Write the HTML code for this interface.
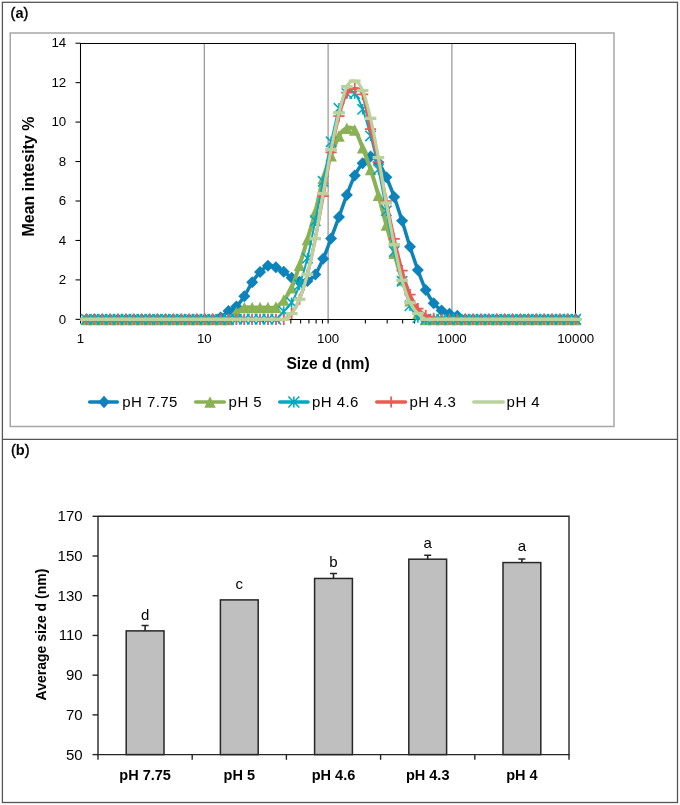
<!DOCTYPE html><html><head><meta charset="utf-8"><style>html,body{margin:0;padding:0;background:#fff;}svg{display:block;will-change:transform;}text{font-family:"Liberation Sans", sans-serif;fill:#000;}</style></head><body>
<svg width="680" height="805" viewBox="0 0 680 805">
<rect x="0" y="0" width="680" height="805" fill="#fff"/>
<defs><clipPath id="pa"><rect x="80.5" y="23.2" width="505.2" height="316.2"/></clipPath></defs>
<rect x="2.4" y="2.3" width="675.1" height="800.2" fill="none" stroke="#555" stroke-width="1.3"/>
<line x1="2" y1="439.3" x2="678" y2="439.3" stroke="#555" stroke-width="1.3"/>
<text x="10.6" y="18" font-size="14.5" stroke="#000" stroke-width="0.4">(<tspan font-weight="bold" stroke-width="0">a</tspan>)</text>
<text x="11" y="455" font-size="14.5" stroke="#000" stroke-width="0.4">(<tspan font-weight="bold" stroke-width="0">b</tspan>)</text>
<rect x="10.25" y="33" width="603.75" height="393.5" fill="none" stroke="#a6a6a6" stroke-width="1.5"/>
<line x1="204.30" y1="43.2" x2="204.30" y2="319.4" stroke="#8a8a8a" stroke-width="1.1"/>
<line x1="328.10" y1="43.2" x2="328.10" y2="319.4" stroke="#8a8a8a" stroke-width="1.1"/>
<line x1="451.90" y1="43.2" x2="451.90" y2="319.4" stroke="#8a8a8a" stroke-width="1.1"/>
<path d="M80.5 43.5H575.5V319.5" fill="none" stroke="#000" stroke-width="1.05"/>
<line x1="80.5" y1="43.0" x2="80.5" y2="320.0" stroke="#000" stroke-width="1.05"/>
<line x1="75.5" y1="319.35" x2="80.5" y2="319.35" stroke="#000" stroke-width="1.05"/>
<text x="66.2" y="323.55" font-size="13.3" text-anchor="end">0</text>
<line x1="75.5" y1="279.90" x2="80.5" y2="279.90" stroke="#000" stroke-width="1.05"/>
<text x="66.2" y="284.10" font-size="13.3" text-anchor="end">2</text>
<line x1="75.5" y1="240.45" x2="80.5" y2="240.45" stroke="#000" stroke-width="1.05"/>
<text x="66.2" y="244.65" font-size="13.3" text-anchor="end">4</text>
<line x1="75.5" y1="201.00" x2="80.5" y2="201.00" stroke="#000" stroke-width="1.05"/>
<text x="66.2" y="205.20" font-size="13.3" text-anchor="end">6</text>
<line x1="75.5" y1="161.55" x2="80.5" y2="161.55" stroke="#000" stroke-width="1.05"/>
<text x="66.2" y="165.75" font-size="13.3" text-anchor="end">8</text>
<line x1="75.5" y1="122.10" x2="80.5" y2="122.10" stroke="#000" stroke-width="1.05"/>
<text x="66.2" y="126.30" font-size="13.3" text-anchor="end">10</text>
<line x1="75.5" y1="82.65" x2="80.5" y2="82.65" stroke="#000" stroke-width="1.05"/>
<text x="66.2" y="86.85" font-size="13.3" text-anchor="end">12</text>
<line x1="75.5" y1="43.20" x2="80.5" y2="43.20" stroke="#000" stroke-width="1.05"/>
<text x="66.2" y="47.40" font-size="13.3" text-anchor="end">14</text>
<line x1="80.5" y1="319.5" x2="576.0" y2="319.5" stroke="#000" stroke-width="1.05"/>
<line x1="80.50" y1="319.5" x2="80.50" y2="323.5" stroke="#000" stroke-width="1.05"/>
<line x1="117.77" y1="319.5" x2="117.77" y2="323.5" stroke="#000" stroke-width="1.05"/>
<line x1="139.57" y1="319.5" x2="139.57" y2="323.5" stroke="#000" stroke-width="1.05"/>
<line x1="155.04" y1="319.5" x2="155.04" y2="323.5" stroke="#000" stroke-width="1.05"/>
<line x1="167.03" y1="319.5" x2="167.03" y2="323.5" stroke="#000" stroke-width="1.05"/>
<line x1="176.84" y1="319.5" x2="176.84" y2="323.5" stroke="#000" stroke-width="1.05"/>
<line x1="185.12" y1="319.5" x2="185.12" y2="323.5" stroke="#000" stroke-width="1.05"/>
<line x1="192.30" y1="319.5" x2="192.30" y2="323.5" stroke="#000" stroke-width="1.05"/>
<line x1="198.64" y1="319.5" x2="198.64" y2="323.5" stroke="#000" stroke-width="1.05"/>
<line x1="204.30" y1="319.5" x2="204.30" y2="323.5" stroke="#000" stroke-width="1.05"/>
<line x1="241.57" y1="319.5" x2="241.57" y2="323.5" stroke="#000" stroke-width="1.05"/>
<line x1="263.37" y1="319.5" x2="263.37" y2="323.5" stroke="#000" stroke-width="1.05"/>
<line x1="278.84" y1="319.5" x2="278.84" y2="323.5" stroke="#000" stroke-width="1.05"/>
<line x1="290.83" y1="319.5" x2="290.83" y2="323.5" stroke="#000" stroke-width="1.05"/>
<line x1="300.64" y1="319.5" x2="300.64" y2="323.5" stroke="#000" stroke-width="1.05"/>
<line x1="308.92" y1="319.5" x2="308.92" y2="323.5" stroke="#000" stroke-width="1.05"/>
<line x1="316.10" y1="319.5" x2="316.10" y2="323.5" stroke="#000" stroke-width="1.05"/>
<line x1="322.44" y1="319.5" x2="322.44" y2="323.5" stroke="#000" stroke-width="1.05"/>
<line x1="328.10" y1="319.5" x2="328.10" y2="323.5" stroke="#000" stroke-width="1.05"/>
<line x1="365.37" y1="319.5" x2="365.37" y2="323.5" stroke="#000" stroke-width="1.05"/>
<line x1="387.17" y1="319.5" x2="387.17" y2="323.5" stroke="#000" stroke-width="1.05"/>
<line x1="402.64" y1="319.5" x2="402.64" y2="323.5" stroke="#000" stroke-width="1.05"/>
<line x1="414.63" y1="319.5" x2="414.63" y2="323.5" stroke="#000" stroke-width="1.05"/>
<line x1="424.44" y1="319.5" x2="424.44" y2="323.5" stroke="#000" stroke-width="1.05"/>
<line x1="432.72" y1="319.5" x2="432.72" y2="323.5" stroke="#000" stroke-width="1.05"/>
<line x1="439.90" y1="319.5" x2="439.90" y2="323.5" stroke="#000" stroke-width="1.05"/>
<line x1="446.24" y1="319.5" x2="446.24" y2="323.5" stroke="#000" stroke-width="1.05"/>
<line x1="451.90" y1="319.5" x2="451.90" y2="323.5" stroke="#000" stroke-width="1.05"/>
<line x1="489.17" y1="319.5" x2="489.17" y2="323.5" stroke="#000" stroke-width="1.05"/>
<line x1="510.97" y1="319.5" x2="510.97" y2="323.5" stroke="#000" stroke-width="1.05"/>
<line x1="526.44" y1="319.5" x2="526.44" y2="323.5" stroke="#000" stroke-width="1.05"/>
<line x1="538.43" y1="319.5" x2="538.43" y2="323.5" stroke="#000" stroke-width="1.05"/>
<line x1="548.24" y1="319.5" x2="548.24" y2="323.5" stroke="#000" stroke-width="1.05"/>
<line x1="556.52" y1="319.5" x2="556.52" y2="323.5" stroke="#000" stroke-width="1.05"/>
<line x1="563.70" y1="319.5" x2="563.70" y2="323.5" stroke="#000" stroke-width="1.05"/>
<line x1="570.04" y1="319.5" x2="570.04" y2="323.5" stroke="#000" stroke-width="1.05"/>
<line x1="575.50" y1="319.5" x2="575.50" y2="323.5" stroke="#000" stroke-width="1.05"/>
<text x="80.50" y="343.0" font-size="13.3" text-anchor="middle">1</text>
<text x="204.30" y="343.0" font-size="13.3" text-anchor="middle">10</text>
<text x="328.10" y="343.0" font-size="13.3" text-anchor="middle">100</text>
<text x="451.90" y="343.0" font-size="13.3" text-anchor="middle">1000</text>
<text x="575.70" y="343.0" font-size="13.3" text-anchor="middle">10000</text>
<text x="328" y="368.6" font-size="15.6" font-weight="bold" text-anchor="middle">Size d (nm)</text>
<text transform="translate(34,176.5) rotate(-90)" x="0" y="0" font-size="16" font-weight="bold" text-anchor="middle">Mean intesity %</text>
<path clip-path="url(#pa)" d="M78.58 319.35C79.89 319.35 83.84 319.35 86.47 319.35C89.10 319.35 91.73 319.35 94.36 319.35C96.99 319.35 99.62 319.35 102.25 319.35C104.88 319.35 107.51 319.35 110.14 319.35C112.77 319.35 115.40 319.35 118.03 319.35C120.66 319.35 123.29 319.35 125.92 319.35C128.55 319.35 131.19 319.35 133.82 319.35C136.45 319.35 139.08 319.35 141.71 319.35C144.34 319.35 146.97 319.35 149.60 319.35C152.23 319.35 154.86 319.35 157.49 319.35C160.12 319.35 162.75 319.35 165.38 319.35C168.01 319.35 170.64 319.35 173.27 319.35C175.90 319.35 178.53 319.35 181.16 319.35C183.79 319.35 186.42 319.35 189.05 319.35C191.68 319.35 194.31 319.35 196.94 319.35C199.57 319.35 202.20 319.35 204.83 319.35C207.46 319.35 210.09 319.68 212.72 319.35C215.35 319.02 217.98 318.76 220.61 317.38C223.24 316.00 225.87 312.87 228.50 311.07C231.14 309.26 233.77 308.99 236.40 306.53C239.03 304.06 241.66 300.32 244.29 296.27C246.92 292.23 249.55 286.31 252.18 282.27C254.81 278.22 257.44 274.77 260.07 272.01C262.70 269.25 265.33 266.49 267.96 265.70C270.59 264.91 273.22 266.26 275.85 267.28C278.48 268.30 281.11 270.07 283.74 271.81C286.37 273.56 289.00 276.09 291.63 277.73C294.26 279.37 296.89 281.15 299.52 281.68C302.15 282.20 304.78 282.10 307.41 280.89C310.04 279.67 312.67 278.06 315.30 274.38C317.93 270.69 320.56 264.78 323.19 258.79C325.82 252.81 328.46 245.45 331.09 238.48C333.72 231.51 336.35 224.24 338.98 216.98C341.61 209.71 344.24 201.79 346.87 194.89C349.50 187.98 352.13 180.85 354.76 175.55C357.39 170.26 360.02 166.28 362.65 163.13C365.28 159.97 367.91 156.72 370.54 156.62C373.17 156.52 375.80 159.08 378.43 162.54C381.06 165.99 383.69 171.58 386.32 177.33C388.95 183.08 391.58 189.82 394.21 197.06C396.84 204.29 399.47 212.44 402.10 220.73C404.73 229.01 407.36 238.54 409.99 246.76C412.62 254.98 415.25 262.84 417.88 270.04C420.51 277.24 423.14 284.44 425.77 289.96C428.41 295.48 431.04 299.76 433.67 303.18C436.30 306.59 438.93 308.70 441.56 310.47C444.19 312.25 446.82 312.94 449.45 313.83C452.08 314.71 454.71 314.88 457.34 315.80C459.97 316.72 462.60 318.76 465.23 319.35C467.86 319.94 470.49 319.35 473.12 319.35C475.75 319.35 478.38 319.35 481.01 319.35C483.64 319.35 486.27 319.35 488.90 319.35C491.53 319.35 494.16 319.35 496.79 319.35C499.42 319.35 502.05 319.35 504.68 319.35C507.31 319.35 509.94 319.35 512.57 319.35C515.20 319.35 517.83 319.35 520.46 319.35C523.09 319.35 525.72 319.35 528.36 319.35C530.99 319.35 533.62 319.35 536.25 319.35C538.88 319.35 541.51 319.35 544.14 319.35C546.77 319.35 549.40 319.35 552.03 319.35C554.66 319.35 557.29 319.35 559.92 319.35C562.55 319.35 565.18 319.35 567.81 319.35C570.44 319.35 574.38 319.35 575.70 319.35" fill="none" stroke="#0c83ba" stroke-width="3.50" stroke-linejoin="round" stroke-linecap="round"/>
<path d="M86.47 313.35L92.47 319.35L86.47 325.35L80.47 319.35Z" fill="#0c83ba"/><path d="M94.36 313.35L100.36 319.35L94.36 325.35L88.36 319.35Z" fill="#0c83ba"/><path d="M102.25 313.35L108.25 319.35L102.25 325.35L96.25 319.35Z" fill="#0c83ba"/><path d="M110.14 313.35L116.14 319.35L110.14 325.35L104.14 319.35Z" fill="#0c83ba"/><path d="M118.03 313.35L124.03 319.35L118.03 325.35L112.03 319.35Z" fill="#0c83ba"/><path d="M125.92 313.35L131.92 319.35L125.92 325.35L119.92 319.35Z" fill="#0c83ba"/><path d="M133.82 313.35L139.82 319.35L133.82 325.35L127.82 319.35Z" fill="#0c83ba"/><path d="M141.71 313.35L147.71 319.35L141.71 325.35L135.71 319.35Z" fill="#0c83ba"/><path d="M149.60 313.35L155.60 319.35L149.60 325.35L143.60 319.35Z" fill="#0c83ba"/><path d="M157.49 313.35L163.49 319.35L157.49 325.35L151.49 319.35Z" fill="#0c83ba"/><path d="M165.38 313.35L171.38 319.35L165.38 325.35L159.38 319.35Z" fill="#0c83ba"/><path d="M173.27 313.35L179.27 319.35L173.27 325.35L167.27 319.35Z" fill="#0c83ba"/><path d="M181.16 313.35L187.16 319.35L181.16 325.35L175.16 319.35Z" fill="#0c83ba"/><path d="M189.05 313.35L195.05 319.35L189.05 325.35L183.05 319.35Z" fill="#0c83ba"/><path d="M196.94 313.35L202.94 319.35L196.94 325.35L190.94 319.35Z" fill="#0c83ba"/><path d="M204.83 313.35L210.83 319.35L204.83 325.35L198.83 319.35Z" fill="#0c83ba"/><path d="M212.72 313.35L218.72 319.35L212.72 325.35L206.72 319.35Z" fill="#0c83ba"/><path d="M220.61 311.38L226.61 317.38L220.61 323.38L214.61 317.38Z" fill="#0c83ba"/><path d="M228.50 305.07L234.50 311.07L228.50 317.07L222.50 311.07Z" fill="#0c83ba"/><path d="M236.40 300.53L242.40 306.53L236.40 312.53L230.40 306.53Z" fill="#0c83ba"/><path d="M244.29 290.27L250.29 296.27L244.29 302.27L238.29 296.27Z" fill="#0c83ba"/><path d="M252.18 276.27L258.18 282.27L252.18 288.27L246.18 282.27Z" fill="#0c83ba"/><path d="M260.07 266.01L266.07 272.01L260.07 278.01L254.07 272.01Z" fill="#0c83ba"/><path d="M267.96 259.70L273.96 265.70L267.96 271.70L261.96 265.70Z" fill="#0c83ba"/><path d="M275.85 261.28L281.85 267.28L275.85 273.28L269.85 267.28Z" fill="#0c83ba"/><path d="M283.74 265.81L289.74 271.81L283.74 277.81L277.74 271.81Z" fill="#0c83ba"/><path d="M291.63 271.73L297.63 277.73L291.63 283.73L285.63 277.73Z" fill="#0c83ba"/><path d="M299.52 275.68L305.52 281.68L299.52 287.68L293.52 281.68Z" fill="#0c83ba"/><path d="M307.41 274.89L313.41 280.89L307.41 286.89L301.41 280.89Z" fill="#0c83ba"/><path d="M315.30 268.38L321.30 274.38L315.30 280.38L309.30 274.38Z" fill="#0c83ba"/><path d="M323.19 252.79L329.19 258.79L323.19 264.79L317.19 258.79Z" fill="#0c83ba"/><path d="M331.09 232.48L337.09 238.48L331.09 244.48L325.09 238.48Z" fill="#0c83ba"/><path d="M338.98 210.98L344.98 216.98L338.98 222.98L332.98 216.98Z" fill="#0c83ba"/><path d="M346.87 188.89L352.87 194.89L346.87 200.89L340.87 194.89Z" fill="#0c83ba"/><path d="M354.76 169.55L360.76 175.55L354.76 181.55L348.76 175.55Z" fill="#0c83ba"/><path d="M362.65 157.13L368.65 163.13L362.65 169.13L356.65 163.13Z" fill="#0c83ba"/><path d="M370.54 150.62L376.54 156.62L370.54 162.62L364.54 156.62Z" fill="#0c83ba"/><path d="M378.43 156.54L384.43 162.54L378.43 168.54L372.43 162.54Z" fill="#0c83ba"/><path d="M386.32 171.33L392.32 177.33L386.32 183.33L380.32 177.33Z" fill="#0c83ba"/><path d="M394.21 191.06L400.21 197.06L394.21 203.06L388.21 197.06Z" fill="#0c83ba"/><path d="M402.10 214.73L408.10 220.73L402.10 226.73L396.10 220.73Z" fill="#0c83ba"/><path d="M409.99 240.76L415.99 246.76L409.99 252.76L403.99 246.76Z" fill="#0c83ba"/><path d="M417.88 264.04L423.88 270.04L417.88 276.04L411.88 270.04Z" fill="#0c83ba"/><path d="M425.77 283.96L431.77 289.96L425.77 295.96L419.77 289.96Z" fill="#0c83ba"/><path d="M433.67 297.18L439.67 303.18L433.67 309.18L427.67 303.18Z" fill="#0c83ba"/><path d="M441.56 304.47L447.56 310.47L441.56 316.47L435.56 310.47Z" fill="#0c83ba"/><path d="M449.45 307.83L455.45 313.83L449.45 319.83L443.45 313.83Z" fill="#0c83ba"/><path d="M457.34 309.80L463.34 315.80L457.34 321.80L451.34 315.80Z" fill="#0c83ba"/><path d="M465.23 313.35L471.23 319.35L465.23 325.35L459.23 319.35Z" fill="#0c83ba"/><path d="M473.12 313.35L479.12 319.35L473.12 325.35L467.12 319.35Z" fill="#0c83ba"/><path d="M481.01 313.35L487.01 319.35L481.01 325.35L475.01 319.35Z" fill="#0c83ba"/><path d="M488.90 313.35L494.90 319.35L488.90 325.35L482.90 319.35Z" fill="#0c83ba"/><path d="M496.79 313.35L502.79 319.35L496.79 325.35L490.79 319.35Z" fill="#0c83ba"/><path d="M504.68 313.35L510.68 319.35L504.68 325.35L498.68 319.35Z" fill="#0c83ba"/><path d="M512.57 313.35L518.57 319.35L512.57 325.35L506.57 319.35Z" fill="#0c83ba"/><path d="M520.46 313.35L526.46 319.35L520.46 325.35L514.46 319.35Z" fill="#0c83ba"/><path d="M528.36 313.35L534.36 319.35L528.36 325.35L522.36 319.35Z" fill="#0c83ba"/><path d="M536.25 313.35L542.25 319.35L536.25 325.35L530.25 319.35Z" fill="#0c83ba"/><path d="M544.14 313.35L550.14 319.35L544.14 325.35L538.14 319.35Z" fill="#0c83ba"/><path d="M552.03 313.35L558.03 319.35L552.03 325.35L546.03 319.35Z" fill="#0c83ba"/><path d="M559.92 313.35L565.92 319.35L559.92 325.35L553.92 319.35Z" fill="#0c83ba"/><path d="M567.81 313.35L573.81 319.35L567.81 325.35L561.81 319.35Z" fill="#0c83ba"/><path d="M575.70 313.35L581.70 319.35L575.70 325.35L569.70 319.35Z" fill="#0c83ba"/>
<path clip-path="url(#pa)" d="M78.58 319.35C79.89 319.35 83.84 319.35 86.47 319.35C89.10 319.35 91.73 319.35 94.36 319.35C96.99 319.35 99.62 319.35 102.25 319.35C104.88 319.35 107.51 319.35 110.14 319.35C112.77 319.35 115.40 319.35 118.03 319.35C120.66 319.35 123.29 319.35 125.92 319.35C128.55 319.35 131.19 319.35 133.82 319.35C136.45 319.35 139.08 319.35 141.71 319.35C144.34 319.35 146.97 319.35 149.60 319.35C152.23 319.35 154.86 319.35 157.49 319.35C160.12 319.35 162.75 319.35 165.38 319.35C168.01 319.35 170.64 319.35 173.27 319.35C175.90 319.35 178.53 319.35 181.16 319.35C183.79 319.35 186.42 319.35 189.05 319.35C191.68 319.35 194.31 319.35 196.94 319.35C199.57 319.35 202.20 319.35 204.83 319.35C207.46 319.35 210.09 319.35 212.72 319.35C215.35 319.35 217.98 319.35 220.61 319.35C223.24 319.35 225.87 320.50 228.50 319.35C231.14 318.20 233.77 314.42 236.40 312.45C239.03 310.47 241.66 308.34 244.29 307.52C246.92 306.69 249.55 307.52 252.18 307.52C254.81 307.52 257.44 307.52 260.07 307.52C262.70 307.52 265.33 307.58 267.96 307.52C270.59 307.45 273.22 308.37 275.85 307.12C278.48 305.87 281.11 303.24 283.74 300.02C286.37 296.80 289.00 293.61 291.63 287.79C294.26 281.97 296.89 273.16 299.52 265.11C302.15 257.05 304.78 248.34 307.41 239.46C310.04 230.59 312.67 222.04 315.30 211.85C317.93 201.66 320.56 187.69 323.19 178.32C325.82 168.95 328.46 162.70 331.09 155.63C333.72 148.56 336.35 140.48 338.98 135.91C341.61 131.34 344.24 129.20 346.87 128.21C349.50 127.23 352.13 126.74 354.76 129.99C357.39 133.24 360.02 141.17 362.65 147.74C365.28 154.32 367.91 161.55 370.54 169.44C373.17 177.33 375.80 185.81 378.43 195.08C381.06 204.35 383.69 215.37 386.32 225.06C388.95 234.76 391.58 244.13 394.21 253.27C396.84 262.41 399.47 272.01 402.10 279.90C404.73 287.79 407.36 295.02 409.99 300.61C412.62 306.20 415.25 310.31 417.88 313.43C420.51 316.56 423.14 318.36 425.77 319.35C428.41 320.34 431.04 319.35 433.67 319.35C436.30 319.35 438.93 319.35 441.56 319.35C444.19 319.35 446.82 319.35 449.45 319.35C452.08 319.35 454.71 319.35 457.34 319.35C459.97 319.35 462.60 319.35 465.23 319.35C467.86 319.35 470.49 319.35 473.12 319.35C475.75 319.35 478.38 319.35 481.01 319.35C483.64 319.35 486.27 319.35 488.90 319.35C491.53 319.35 494.16 319.35 496.79 319.35C499.42 319.35 502.05 319.35 504.68 319.35C507.31 319.35 509.94 319.35 512.57 319.35C515.20 319.35 517.83 319.35 520.46 319.35C523.09 319.35 525.72 319.35 528.36 319.35C530.99 319.35 533.62 319.35 536.25 319.35C538.88 319.35 541.51 319.35 544.14 319.35C546.77 319.35 549.40 319.35 552.03 319.35C554.66 319.35 557.29 319.35 559.92 319.35C562.55 319.35 565.18 319.35 567.81 319.35C570.44 319.35 574.38 319.35 575.70 319.35" fill="none" stroke="#8ab254" stroke-width="4.00" stroke-linejoin="round" stroke-linecap="round"/>
<path d="M86.47 313.55L92.22 325.15L80.72 325.15Z" fill="#8ab254"/><path d="M94.36 313.55L100.11 325.15L88.61 325.15Z" fill="#8ab254"/><path d="M102.25 313.55L108.00 325.15L96.50 325.15Z" fill="#8ab254"/><path d="M110.14 313.55L115.89 325.15L104.39 325.15Z" fill="#8ab254"/><path d="M118.03 313.55L123.78 325.15L112.28 325.15Z" fill="#8ab254"/><path d="M125.92 313.55L131.67 325.15L120.17 325.15Z" fill="#8ab254"/><path d="M133.82 313.55L139.57 325.15L128.07 325.15Z" fill="#8ab254"/><path d="M141.71 313.55L147.46 325.15L135.96 325.15Z" fill="#8ab254"/><path d="M149.60 313.55L155.35 325.15L143.85 325.15Z" fill="#8ab254"/><path d="M157.49 313.55L163.24 325.15L151.74 325.15Z" fill="#8ab254"/><path d="M165.38 313.55L171.13 325.15L159.63 325.15Z" fill="#8ab254"/><path d="M173.27 313.55L179.02 325.15L167.52 325.15Z" fill="#8ab254"/><path d="M181.16 313.55L186.91 325.15L175.41 325.15Z" fill="#8ab254"/><path d="M189.05 313.55L194.80 325.15L183.30 325.15Z" fill="#8ab254"/><path d="M196.94 313.55L202.69 325.15L191.19 325.15Z" fill="#8ab254"/><path d="M204.83 313.55L210.58 325.15L199.08 325.15Z" fill="#8ab254"/><path d="M212.72 313.55L218.47 325.15L206.97 325.15Z" fill="#8ab254"/><path d="M220.61 313.55L226.36 325.15L214.86 325.15Z" fill="#8ab254"/><path d="M228.50 313.55L234.25 325.15L222.75 325.15Z" fill="#8ab254"/><path d="M236.40 306.65L242.15 318.25L230.65 318.25Z" fill="#8ab254"/><path d="M244.29 301.72L250.04 313.32L238.54 313.32Z" fill="#8ab254"/><path d="M252.18 301.72L257.93 313.32L246.43 313.32Z" fill="#8ab254"/><path d="M260.07 301.72L265.82 313.32L254.32 313.32Z" fill="#8ab254"/><path d="M267.96 301.72L273.71 313.32L262.21 313.32Z" fill="#8ab254"/><path d="M275.85 301.32L281.60 312.92L270.10 312.92Z" fill="#8ab254"/><path d="M283.74 294.22L289.49 305.82L277.99 305.82Z" fill="#8ab254"/><path d="M291.63 281.99L297.38 293.59L285.88 293.59Z" fill="#8ab254"/><path d="M299.52 259.31L305.27 270.91L293.77 270.91Z" fill="#8ab254"/><path d="M307.41 233.66L313.16 245.26L301.66 245.26Z" fill="#8ab254"/><path d="M315.30 206.05L321.05 217.65L309.55 217.65Z" fill="#8ab254"/><path d="M323.19 172.52L328.94 184.12L317.44 184.12Z" fill="#8ab254"/><path d="M331.09 149.83L336.84 161.43L325.34 161.43Z" fill="#8ab254"/><path d="M338.98 130.11L344.73 141.71L333.23 141.71Z" fill="#8ab254"/><path d="M346.87 122.41L352.62 134.01L341.12 134.01Z" fill="#8ab254"/><path d="M354.76 124.19L360.51 135.79L349.01 135.79Z" fill="#8ab254"/><path d="M362.65 141.94L368.40 153.54L356.90 153.54Z" fill="#8ab254"/><path d="M370.54 163.64L376.29 175.24L364.79 175.24Z" fill="#8ab254"/><path d="M378.43 189.28L384.18 200.88L372.68 200.88Z" fill="#8ab254"/><path d="M386.32 219.26L392.07 230.86L380.57 230.86Z" fill="#8ab254"/><path d="M394.21 247.47L399.96 259.07L388.46 259.07Z" fill="#8ab254"/><path d="M402.10 274.10L407.85 285.70L396.35 285.70Z" fill="#8ab254"/><path d="M409.99 294.81L415.74 306.41L404.24 306.41Z" fill="#8ab254"/><path d="M417.88 307.63L423.63 319.23L412.13 319.23Z" fill="#8ab254"/><path d="M425.77 313.55L431.52 325.15L420.02 325.15Z" fill="#8ab254"/><path d="M433.67 313.55L439.42 325.15L427.92 325.15Z" fill="#8ab254"/><path d="M441.56 313.55L447.31 325.15L435.81 325.15Z" fill="#8ab254"/><path d="M449.45 313.55L455.20 325.15L443.70 325.15Z" fill="#8ab254"/><path d="M457.34 313.55L463.09 325.15L451.59 325.15Z" fill="#8ab254"/><path d="M465.23 313.55L470.98 325.15L459.48 325.15Z" fill="#8ab254"/><path d="M473.12 313.55L478.87 325.15L467.37 325.15Z" fill="#8ab254"/><path d="M481.01 313.55L486.76 325.15L475.26 325.15Z" fill="#8ab254"/><path d="M488.90 313.55L494.65 325.15L483.15 325.15Z" fill="#8ab254"/><path d="M496.79 313.55L502.54 325.15L491.04 325.15Z" fill="#8ab254"/><path d="M504.68 313.55L510.43 325.15L498.93 325.15Z" fill="#8ab254"/><path d="M512.57 313.55L518.32 325.15L506.82 325.15Z" fill="#8ab254"/><path d="M520.46 313.55L526.21 325.15L514.71 325.15Z" fill="#8ab254"/><path d="M528.36 313.55L534.11 325.15L522.61 325.15Z" fill="#8ab254"/><path d="M536.25 313.55L542.00 325.15L530.50 325.15Z" fill="#8ab254"/><path d="M544.14 313.55L549.89 325.15L538.39 325.15Z" fill="#8ab254"/><path d="M552.03 313.55L557.78 325.15L546.28 325.15Z" fill="#8ab254"/><path d="M559.92 313.55L565.67 325.15L554.17 325.15Z" fill="#8ab254"/><path d="M567.81 313.55L573.56 325.15L562.06 325.15Z" fill="#8ab254"/><path d="M575.70 313.55L581.45 325.15L569.95 325.15Z" fill="#8ab254"/>
<path clip-path="url(#pa)" d="M78.58 319.35C79.89 319.35 83.84 319.35 86.47 319.35C89.10 319.35 91.73 319.35 94.36 319.35C96.99 319.35 99.62 319.35 102.25 319.35C104.88 319.35 107.51 319.35 110.14 319.35C112.77 319.35 115.40 319.35 118.03 319.35C120.66 319.35 123.29 319.35 125.92 319.35C128.55 319.35 131.19 319.35 133.82 319.35C136.45 319.35 139.08 319.35 141.71 319.35C144.34 319.35 146.97 319.35 149.60 319.35C152.23 319.35 154.86 319.35 157.49 319.35C160.12 319.35 162.75 319.35 165.38 319.35C168.01 319.35 170.64 319.35 173.27 319.35C175.90 319.35 178.53 319.35 181.16 319.35C183.79 319.35 186.42 319.35 189.05 319.35C191.68 319.35 194.31 319.35 196.94 319.35C199.57 319.35 202.20 319.35 204.83 319.35C207.46 319.35 210.09 319.35 212.72 319.35C215.35 319.35 217.98 319.35 220.61 319.35C223.24 319.35 225.87 319.35 228.50 319.35C231.14 319.35 233.77 319.35 236.40 319.35C239.03 319.35 241.66 319.35 244.29 319.35C246.92 319.35 249.55 319.35 252.18 319.35C254.81 319.35 257.44 319.35 260.07 319.35C262.70 319.35 265.33 319.35 267.96 319.35C270.59 319.35 273.22 320.67 275.85 319.35C278.48 318.04 281.11 314.25 283.74 311.46C286.37 308.67 289.00 307.02 291.63 302.58C294.26 298.15 296.89 292.23 299.52 284.83C302.15 277.43 304.78 268.89 307.41 258.20C310.04 247.52 312.67 233.55 315.30 220.73C317.93 207.90 320.56 194.43 323.19 181.28C325.82 168.12 328.46 153.99 331.09 141.82C333.72 129.66 336.35 116.35 338.98 108.29C341.61 100.24 344.24 95.96 346.87 93.50C349.50 91.03 352.13 90.87 354.76 93.50C357.39 96.13 360.02 102.21 362.65 109.28C365.28 116.35 367.91 125.88 370.54 135.91C373.17 145.93 375.80 156.95 378.43 169.44C381.06 181.93 383.69 197.19 386.32 210.86C388.95 224.54 391.58 239.76 394.21 251.50C396.84 263.23 399.47 272.24 402.10 281.28C404.73 290.32 407.36 299.69 409.99 305.74C412.62 311.79 415.25 315.31 417.88 317.57C420.51 319.84 423.14 319.05 425.77 319.35C428.41 319.65 431.04 319.35 433.67 319.35C436.30 319.35 438.93 319.35 441.56 319.35C444.19 319.35 446.82 319.35 449.45 319.35C452.08 319.35 454.71 319.35 457.34 319.35C459.97 319.35 462.60 319.35 465.23 319.35C467.86 319.35 470.49 319.35 473.12 319.35C475.75 319.35 478.38 319.35 481.01 319.35C483.64 319.35 486.27 319.35 488.90 319.35C491.53 319.35 494.16 319.35 496.79 319.35C499.42 319.35 502.05 319.35 504.68 319.35C507.31 319.35 509.94 319.35 512.57 319.35C515.20 319.35 517.83 319.35 520.46 319.35C523.09 319.35 525.72 319.35 528.36 319.35C530.99 319.35 533.62 319.35 536.25 319.35C538.88 319.35 541.51 319.35 544.14 319.35C546.77 319.35 549.40 319.35 552.03 319.35C554.66 319.35 557.29 319.35 559.92 319.35C562.55 319.35 565.18 319.35 567.81 319.35C570.44 319.35 574.38 319.35 575.70 319.35" fill="none" stroke="#04a8bf" stroke-width="2.00" stroke-linejoin="round" stroke-linecap="round"/>
<path d="M81.27 314.15L91.67 324.55M91.67 314.15L81.27 324.55M86.47 314.15L86.47 324.55" stroke="#04a8bf" stroke-width="1.55" fill="none"/><path d="M89.16 314.15L99.56 324.55M99.56 314.15L89.16 324.55M94.36 314.15L94.36 324.55" stroke="#04a8bf" stroke-width="1.55" fill="none"/><path d="M97.05 314.15L107.45 324.55M107.45 314.15L97.05 324.55M102.25 314.15L102.25 324.55" stroke="#04a8bf" stroke-width="1.55" fill="none"/><path d="M104.94 314.15L115.34 324.55M115.34 314.15L104.94 324.55M110.14 314.15L110.14 324.55" stroke="#04a8bf" stroke-width="1.55" fill="none"/><path d="M112.83 314.15L123.23 324.55M123.23 314.15L112.83 324.55M118.03 314.15L118.03 324.55" stroke="#04a8bf" stroke-width="1.55" fill="none"/><path d="M120.72 314.15L131.12 324.55M131.12 314.15L120.72 324.55M125.92 314.15L125.92 324.55" stroke="#04a8bf" stroke-width="1.55" fill="none"/><path d="M128.62 314.15L139.02 324.55M139.02 314.15L128.62 324.55M133.82 314.15L133.82 324.55" stroke="#04a8bf" stroke-width="1.55" fill="none"/><path d="M136.51 314.15L146.91 324.55M146.91 314.15L136.51 324.55M141.71 314.15L141.71 324.55" stroke="#04a8bf" stroke-width="1.55" fill="none"/><path d="M144.40 314.15L154.80 324.55M154.80 314.15L144.40 324.55M149.60 314.15L149.60 324.55" stroke="#04a8bf" stroke-width="1.55" fill="none"/><path d="M152.29 314.15L162.69 324.55M162.69 314.15L152.29 324.55M157.49 314.15L157.49 324.55" stroke="#04a8bf" stroke-width="1.55" fill="none"/><path d="M160.18 314.15L170.58 324.55M170.58 314.15L160.18 324.55M165.38 314.15L165.38 324.55" stroke="#04a8bf" stroke-width="1.55" fill="none"/><path d="M168.07 314.15L178.47 324.55M178.47 314.15L168.07 324.55M173.27 314.15L173.27 324.55" stroke="#04a8bf" stroke-width="1.55" fill="none"/><path d="M175.96 314.15L186.36 324.55M186.36 314.15L175.96 324.55M181.16 314.15L181.16 324.55" stroke="#04a8bf" stroke-width="1.55" fill="none"/><path d="M183.85 314.15L194.25 324.55M194.25 314.15L183.85 324.55M189.05 314.15L189.05 324.55" stroke="#04a8bf" stroke-width="1.55" fill="none"/><path d="M191.74 314.15L202.14 324.55M202.14 314.15L191.74 324.55M196.94 314.15L196.94 324.55" stroke="#04a8bf" stroke-width="1.55" fill="none"/><path d="M199.63 314.15L210.03 324.55M210.03 314.15L199.63 324.55M204.83 314.15L204.83 324.55" stroke="#04a8bf" stroke-width="1.55" fill="none"/><path d="M207.52 314.15L217.92 324.55M217.92 314.15L207.52 324.55M212.72 314.15L212.72 324.55" stroke="#04a8bf" stroke-width="1.55" fill="none"/><path d="M215.41 314.15L225.81 324.55M225.81 314.15L215.41 324.55M220.61 314.15L220.61 324.55" stroke="#04a8bf" stroke-width="1.55" fill="none"/><path d="M223.30 314.15L233.70 324.55M233.70 314.15L223.30 324.55M228.50 314.15L228.50 324.55" stroke="#04a8bf" stroke-width="1.55" fill="none"/><path d="M231.20 314.15L241.60 324.55M241.60 314.15L231.20 324.55M236.40 314.15L236.40 324.55" stroke="#04a8bf" stroke-width="1.55" fill="none"/><path d="M239.09 314.15L249.49 324.55M249.49 314.15L239.09 324.55M244.29 314.15L244.29 324.55" stroke="#04a8bf" stroke-width="1.55" fill="none"/><path d="M246.98 314.15L257.38 324.55M257.38 314.15L246.98 324.55M252.18 314.15L252.18 324.55" stroke="#04a8bf" stroke-width="1.55" fill="none"/><path d="M254.87 314.15L265.27 324.55M265.27 314.15L254.87 324.55M260.07 314.15L260.07 324.55" stroke="#04a8bf" stroke-width="1.55" fill="none"/><path d="M262.76 314.15L273.16 324.55M273.16 314.15L262.76 324.55M267.96 314.15L267.96 324.55" stroke="#04a8bf" stroke-width="1.55" fill="none"/><path d="M270.65 314.15L281.05 324.55M281.05 314.15L270.65 324.55M275.85 314.15L275.85 324.55" stroke="#04a8bf" stroke-width="1.55" fill="none"/><path d="M278.54 306.26L288.94 316.66M288.94 306.26L278.54 316.66M283.74 306.26L283.74 316.66" stroke="#04a8bf" stroke-width="1.55" fill="none"/><path d="M286.43 297.38L296.83 307.78M296.83 297.38L286.43 307.78M291.63 297.38L291.63 307.78" stroke="#04a8bf" stroke-width="1.55" fill="none"/><path d="M294.32 279.63L304.72 290.03M304.72 279.63L294.32 290.03M299.52 279.63L299.52 290.03" stroke="#04a8bf" stroke-width="1.55" fill="none"/><path d="M302.21 253.00L312.61 263.40M312.61 253.00L302.21 263.40M307.41 253.00L307.41 263.40" stroke="#04a8bf" stroke-width="1.55" fill="none"/><path d="M310.10 215.53L320.50 225.93M320.50 215.53L310.10 225.93M315.30 215.53L315.30 225.93" stroke="#04a8bf" stroke-width="1.55" fill="none"/><path d="M317.99 176.08L328.39 186.47M328.39 176.08L317.99 186.47M323.19 176.08L323.19 186.47" stroke="#04a8bf" stroke-width="1.55" fill="none"/><path d="M325.89 136.62L336.29 147.02M336.29 136.62L325.89 147.02M331.09 136.62L331.09 147.02" stroke="#04a8bf" stroke-width="1.55" fill="none"/><path d="M333.78 103.09L344.18 113.49M344.18 103.09L333.78 113.49M338.98 103.09L338.98 113.49" stroke="#04a8bf" stroke-width="1.55" fill="none"/><path d="M341.67 88.30L352.07 98.70M352.07 88.30L341.67 98.70M346.87 88.30L346.87 98.70" stroke="#04a8bf" stroke-width="1.55" fill="none"/><path d="M349.56 88.30L359.96 98.70M359.96 88.30L349.56 98.70M354.76 88.30L354.76 98.70" stroke="#04a8bf" stroke-width="1.55" fill="none"/><path d="M357.45 104.08L367.85 114.48M367.85 104.08L357.45 114.48M362.65 104.08L362.65 114.48" stroke="#04a8bf" stroke-width="1.55" fill="none"/><path d="M365.34 130.71L375.74 141.11M375.74 130.71L365.34 141.11M370.54 130.71L370.54 141.11" stroke="#04a8bf" stroke-width="1.55" fill="none"/><path d="M373.23 164.24L383.63 174.64M383.63 164.24L373.23 174.64M378.43 164.24L378.43 174.64" stroke="#04a8bf" stroke-width="1.55" fill="none"/><path d="M381.12 205.66L391.52 216.06M391.52 205.66L381.12 216.06M386.32 205.66L386.32 216.06" stroke="#04a8bf" stroke-width="1.55" fill="none"/><path d="M389.01 246.30L399.41 256.70M399.41 246.30L389.01 256.70M394.21 246.30L394.21 256.70" stroke="#04a8bf" stroke-width="1.55" fill="none"/><path d="M396.90 276.08L407.30 286.48M407.30 276.08L396.90 286.48M402.10 276.08L402.10 286.48" stroke="#04a8bf" stroke-width="1.55" fill="none"/><path d="M404.79 300.54L415.19 310.94M415.19 300.54L404.79 310.94M409.99 300.54L409.99 310.94" stroke="#04a8bf" stroke-width="1.55" fill="none"/><path d="M412.68 312.37L423.08 322.77M423.08 312.37L412.68 322.77M417.88 312.37L417.88 322.77" stroke="#04a8bf" stroke-width="1.55" fill="none"/><path d="M420.57 314.15L430.97 324.55M430.97 314.15L420.57 324.55M425.77 314.15L425.77 324.55" stroke="#04a8bf" stroke-width="1.55" fill="none"/><path d="M428.47 314.15L438.87 324.55M438.87 314.15L428.47 324.55M433.67 314.15L433.67 324.55" stroke="#04a8bf" stroke-width="1.55" fill="none"/><path d="M436.36 314.15L446.76 324.55M446.76 314.15L436.36 324.55M441.56 314.15L441.56 324.55" stroke="#04a8bf" stroke-width="1.55" fill="none"/><path d="M444.25 314.15L454.65 324.55M454.65 314.15L444.25 324.55M449.45 314.15L449.45 324.55" stroke="#04a8bf" stroke-width="1.55" fill="none"/><path d="M452.14 314.15L462.54 324.55M462.54 314.15L452.14 324.55M457.34 314.15L457.34 324.55" stroke="#04a8bf" stroke-width="1.55" fill="none"/><path d="M460.03 314.15L470.43 324.55M470.43 314.15L460.03 324.55M465.23 314.15L465.23 324.55" stroke="#04a8bf" stroke-width="1.55" fill="none"/><path d="M467.92 314.15L478.32 324.55M478.32 314.15L467.92 324.55M473.12 314.15L473.12 324.55" stroke="#04a8bf" stroke-width="1.55" fill="none"/><path d="M475.81 314.15L486.21 324.55M486.21 314.15L475.81 324.55M481.01 314.15L481.01 324.55" stroke="#04a8bf" stroke-width="1.55" fill="none"/><path d="M483.70 314.15L494.10 324.55M494.10 314.15L483.70 324.55M488.90 314.15L488.90 324.55" stroke="#04a8bf" stroke-width="1.55" fill="none"/><path d="M491.59 314.15L501.99 324.55M501.99 314.15L491.59 324.55M496.79 314.15L496.79 324.55" stroke="#04a8bf" stroke-width="1.55" fill="none"/><path d="M499.48 314.15L509.88 324.55M509.88 314.15L499.48 324.55M504.68 314.15L504.68 324.55" stroke="#04a8bf" stroke-width="1.55" fill="none"/><path d="M507.37 314.15L517.77 324.55M517.77 314.15L507.37 324.55M512.57 314.15L512.57 324.55" stroke="#04a8bf" stroke-width="1.55" fill="none"/><path d="M515.26 314.15L525.66 324.55M525.66 314.15L515.26 324.55M520.46 314.15L520.46 324.55" stroke="#04a8bf" stroke-width="1.55" fill="none"/><path d="M523.16 314.15L533.56 324.55M533.56 314.15L523.16 324.55M528.36 314.15L528.36 324.55" stroke="#04a8bf" stroke-width="1.55" fill="none"/><path d="M531.05 314.15L541.45 324.55M541.45 314.15L531.05 324.55M536.25 314.15L536.25 324.55" stroke="#04a8bf" stroke-width="1.55" fill="none"/><path d="M538.94 314.15L549.34 324.55M549.34 314.15L538.94 324.55M544.14 314.15L544.14 324.55" stroke="#04a8bf" stroke-width="1.55" fill="none"/><path d="M546.83 314.15L557.23 324.55M557.23 314.15L546.83 324.55M552.03 314.15L552.03 324.55" stroke="#04a8bf" stroke-width="1.55" fill="none"/><path d="M554.72 314.15L565.12 324.55M565.12 314.15L554.72 324.55M559.92 314.15L559.92 324.55" stroke="#04a8bf" stroke-width="1.55" fill="none"/><path d="M562.61 314.15L573.01 324.55M573.01 314.15L562.61 324.55M567.81 314.15L567.81 324.55" stroke="#04a8bf" stroke-width="1.55" fill="none"/><path d="M570.50 314.15L580.90 324.55M580.90 314.15L570.50 324.55M575.70 314.15L575.70 324.55" stroke="#04a8bf" stroke-width="1.55" fill="none"/>
<path clip-path="url(#pa)" d="M78.58 319.35C79.89 319.35 83.84 319.35 86.47 319.35C89.10 319.35 91.73 319.35 94.36 319.35C96.99 319.35 99.62 319.35 102.25 319.35C104.88 319.35 107.51 319.35 110.14 319.35C112.77 319.35 115.40 319.35 118.03 319.35C120.66 319.35 123.29 319.35 125.92 319.35C128.55 319.35 131.19 319.35 133.82 319.35C136.45 319.35 139.08 319.35 141.71 319.35C144.34 319.35 146.97 319.35 149.60 319.35C152.23 319.35 154.86 319.35 157.49 319.35C160.12 319.35 162.75 319.35 165.38 319.35C168.01 319.35 170.64 319.35 173.27 319.35C175.90 319.35 178.53 319.35 181.16 319.35C183.79 319.35 186.42 319.35 189.05 319.35C191.68 319.35 194.31 319.35 196.94 319.35C199.57 319.35 202.20 319.35 204.83 319.35C207.46 319.35 210.09 319.35 212.72 319.35C215.35 319.35 217.98 319.35 220.61 319.35C223.24 319.35 225.87 319.35 228.50 319.35C231.14 319.35 233.77 319.35 236.40 319.35C239.03 319.35 241.66 319.35 244.29 319.35C246.92 319.35 249.55 319.35 252.18 319.35C254.81 319.35 257.44 319.35 260.07 319.35C262.70 319.35 265.33 319.35 267.96 319.35C270.59 319.35 273.22 319.35 275.85 319.35C278.48 319.35 281.11 320.34 283.74 319.35C286.37 318.36 289.00 316.79 291.63 313.43C294.26 310.08 296.89 305.74 299.52 299.23C302.15 292.72 304.78 284.47 307.41 274.38C310.04 264.28 312.67 251.73 315.30 238.67C317.93 225.62 320.56 210.47 323.19 196.07C325.82 181.67 328.46 165.59 331.09 152.28C333.72 138.96 336.35 126.11 338.98 116.18C341.61 106.25 344.24 97.31 346.87 92.71C349.50 88.11 352.13 88.27 354.76 88.57C357.39 88.86 360.02 87.75 362.65 94.48C365.28 101.22 367.91 117.76 370.54 129.00C373.17 140.25 375.80 149.95 378.43 161.94C381.06 173.94 383.69 188.18 386.32 201.00C388.95 213.82 391.58 227.27 394.21 238.87C396.84 250.48 399.47 261.36 402.10 270.63C404.73 279.90 407.36 288.18 409.99 294.50C412.62 300.81 415.25 305.02 417.88 308.50C420.51 311.99 423.14 313.76 425.77 315.41C428.41 317.05 431.04 317.71 433.67 318.36C436.30 319.02 438.93 319.19 441.56 319.35C444.19 319.51 446.82 319.35 449.45 319.35C452.08 319.35 454.71 319.35 457.34 319.35C459.97 319.35 462.60 319.35 465.23 319.35C467.86 319.35 470.49 319.35 473.12 319.35C475.75 319.35 478.38 319.35 481.01 319.35C483.64 319.35 486.27 319.35 488.90 319.35C491.53 319.35 494.16 319.35 496.79 319.35C499.42 319.35 502.05 319.35 504.68 319.35C507.31 319.35 509.94 319.35 512.57 319.35C515.20 319.35 517.83 319.35 520.46 319.35C523.09 319.35 525.72 319.35 528.36 319.35C530.99 319.35 533.62 319.35 536.25 319.35C538.88 319.35 541.51 319.35 544.14 319.35C546.77 319.35 549.40 319.35 552.03 319.35C554.66 319.35 557.29 319.35 559.92 319.35C562.55 319.35 565.18 319.35 567.81 319.35C570.44 319.35 574.38 319.35 575.70 319.35" fill="none" stroke="#ea5b53" stroke-width="3.20" stroke-linejoin="round" stroke-linecap="round"/>
<path d="M80.87 319.35L92.07 319.35M86.47 313.75L86.47 324.95" stroke="#ea5b53" stroke-width="1.75" fill="none"/><path d="M88.76 319.35L99.96 319.35M94.36 313.75L94.36 324.95" stroke="#ea5b53" stroke-width="1.75" fill="none"/><path d="M96.65 319.35L107.85 319.35M102.25 313.75L102.25 324.95" stroke="#ea5b53" stroke-width="1.75" fill="none"/><path d="M104.54 319.35L115.74 319.35M110.14 313.75L110.14 324.95" stroke="#ea5b53" stroke-width="1.75" fill="none"/><path d="M112.43 319.35L123.63 319.35M118.03 313.75L118.03 324.95" stroke="#ea5b53" stroke-width="1.75" fill="none"/><path d="M120.32 319.35L131.52 319.35M125.92 313.75L125.92 324.95" stroke="#ea5b53" stroke-width="1.75" fill="none"/><path d="M128.22 319.35L139.42 319.35M133.82 313.75L133.82 324.95" stroke="#ea5b53" stroke-width="1.75" fill="none"/><path d="M136.11 319.35L147.31 319.35M141.71 313.75L141.71 324.95" stroke="#ea5b53" stroke-width="1.75" fill="none"/><path d="M144.00 319.35L155.20 319.35M149.60 313.75L149.60 324.95" stroke="#ea5b53" stroke-width="1.75" fill="none"/><path d="M151.89 319.35L163.09 319.35M157.49 313.75L157.49 324.95" stroke="#ea5b53" stroke-width="1.75" fill="none"/><path d="M159.78 319.35L170.98 319.35M165.38 313.75L165.38 324.95" stroke="#ea5b53" stroke-width="1.75" fill="none"/><path d="M167.67 319.35L178.87 319.35M173.27 313.75L173.27 324.95" stroke="#ea5b53" stroke-width="1.75" fill="none"/><path d="M175.56 319.35L186.76 319.35M181.16 313.75L181.16 324.95" stroke="#ea5b53" stroke-width="1.75" fill="none"/><path d="M183.45 319.35L194.65 319.35M189.05 313.75L189.05 324.95" stroke="#ea5b53" stroke-width="1.75" fill="none"/><path d="M191.34 319.35L202.54 319.35M196.94 313.75L196.94 324.95" stroke="#ea5b53" stroke-width="1.75" fill="none"/><path d="M199.23 319.35L210.43 319.35M204.83 313.75L204.83 324.95" stroke="#ea5b53" stroke-width="1.75" fill="none"/><path d="M207.12 319.35L218.32 319.35M212.72 313.75L212.72 324.95" stroke="#ea5b53" stroke-width="1.75" fill="none"/><path d="M215.01 319.35L226.21 319.35M220.61 313.75L220.61 324.95" stroke="#ea5b53" stroke-width="1.75" fill="none"/><path d="M222.90 319.35L234.10 319.35M228.50 313.75L228.50 324.95" stroke="#ea5b53" stroke-width="1.75" fill="none"/><path d="M230.80 319.35L242.00 319.35M236.40 313.75L236.40 324.95" stroke="#ea5b53" stroke-width="1.75" fill="none"/><path d="M238.69 319.35L249.89 319.35M244.29 313.75L244.29 324.95" stroke="#ea5b53" stroke-width="1.75" fill="none"/><path d="M246.58 319.35L257.78 319.35M252.18 313.75L252.18 324.95" stroke="#ea5b53" stroke-width="1.75" fill="none"/><path d="M254.47 319.35L265.67 319.35M260.07 313.75L260.07 324.95" stroke="#ea5b53" stroke-width="1.75" fill="none"/><path d="M262.36 319.35L273.56 319.35M267.96 313.75L267.96 324.95" stroke="#ea5b53" stroke-width="1.75" fill="none"/><path d="M270.25 319.35L281.45 319.35M275.85 313.75L275.85 324.95" stroke="#ea5b53" stroke-width="1.75" fill="none"/><path d="M278.14 319.35L289.34 319.35M283.74 313.75L283.74 324.95" stroke="#ea5b53" stroke-width="1.75" fill="none"/><path d="M286.03 313.43L297.23 313.43M291.63 307.83L291.63 319.03" stroke="#ea5b53" stroke-width="1.75" fill="none"/><path d="M293.92 299.23L305.12 299.23M299.52 293.63L299.52 304.83" stroke="#ea5b53" stroke-width="1.75" fill="none"/><path d="M301.81 274.38L313.01 274.38M307.41 268.78L307.41 279.98" stroke="#ea5b53" stroke-width="1.75" fill="none"/><path d="M309.70 238.67L320.90 238.67M315.30 233.07L315.30 244.27" stroke="#ea5b53" stroke-width="1.75" fill="none"/><path d="M317.59 196.07L328.79 196.07M323.19 190.47L323.19 201.67" stroke="#ea5b53" stroke-width="1.75" fill="none"/><path d="M325.49 152.28L336.69 152.28M331.09 146.68L331.09 157.88" stroke="#ea5b53" stroke-width="1.75" fill="none"/><path d="M333.38 116.18L344.58 116.18M338.98 110.58L338.98 121.78" stroke="#ea5b53" stroke-width="1.75" fill="none"/><path d="M341.27 92.71L352.47 92.71M346.87 87.11L346.87 98.31" stroke="#ea5b53" stroke-width="1.75" fill="none"/><path d="M349.16 88.57L360.36 88.57M354.76 82.97L354.76 94.17" stroke="#ea5b53" stroke-width="1.75" fill="none"/><path d="M357.05 94.48L368.25 94.48M362.65 88.88L362.65 100.08" stroke="#ea5b53" stroke-width="1.75" fill="none"/><path d="M364.94 129.00L376.14 129.00M370.54 123.40L370.54 134.60" stroke="#ea5b53" stroke-width="1.75" fill="none"/><path d="M372.83 161.94L384.03 161.94M378.43 156.34L378.43 167.54" stroke="#ea5b53" stroke-width="1.75" fill="none"/><path d="M380.72 201.00L391.92 201.00M386.32 195.40L386.32 206.60" stroke="#ea5b53" stroke-width="1.75" fill="none"/><path d="M388.61 238.87L399.81 238.87M394.21 233.27L394.21 244.47" stroke="#ea5b53" stroke-width="1.75" fill="none"/><path d="M396.50 270.63L407.70 270.63M402.10 265.03L402.10 276.23" stroke="#ea5b53" stroke-width="1.75" fill="none"/><path d="M404.39 294.50L415.59 294.50M409.99 288.90L409.99 300.10" stroke="#ea5b53" stroke-width="1.75" fill="none"/><path d="M412.28 308.50L423.48 308.50M417.88 302.90L417.88 314.10" stroke="#ea5b53" stroke-width="1.75" fill="none"/><path d="M420.17 315.41L431.37 315.41M425.77 309.81L425.77 321.01" stroke="#ea5b53" stroke-width="1.75" fill="none"/><path d="M428.07 318.36L439.27 318.36M433.67 312.76L433.67 323.96" stroke="#ea5b53" stroke-width="1.75" fill="none"/><path d="M435.96 319.35L447.16 319.35M441.56 313.75L441.56 324.95" stroke="#ea5b53" stroke-width="1.75" fill="none"/><path d="M443.85 319.35L455.05 319.35M449.45 313.75L449.45 324.95" stroke="#ea5b53" stroke-width="1.75" fill="none"/><path d="M451.74 319.35L462.94 319.35M457.34 313.75L457.34 324.95" stroke="#ea5b53" stroke-width="1.75" fill="none"/><path d="M459.63 319.35L470.83 319.35M465.23 313.75L465.23 324.95" stroke="#ea5b53" stroke-width="1.75" fill="none"/><path d="M467.52 319.35L478.72 319.35M473.12 313.75L473.12 324.95" stroke="#ea5b53" stroke-width="1.75" fill="none"/><path d="M475.41 319.35L486.61 319.35M481.01 313.75L481.01 324.95" stroke="#ea5b53" stroke-width="1.75" fill="none"/><path d="M483.30 319.35L494.50 319.35M488.90 313.75L488.90 324.95" stroke="#ea5b53" stroke-width="1.75" fill="none"/><path d="M491.19 319.35L502.39 319.35M496.79 313.75L496.79 324.95" stroke="#ea5b53" stroke-width="1.75" fill="none"/><path d="M499.08 319.35L510.28 319.35M504.68 313.75L504.68 324.95" stroke="#ea5b53" stroke-width="1.75" fill="none"/><path d="M506.97 319.35L518.17 319.35M512.57 313.75L512.57 324.95" stroke="#ea5b53" stroke-width="1.75" fill="none"/><path d="M514.86 319.35L526.06 319.35M520.46 313.75L520.46 324.95" stroke="#ea5b53" stroke-width="1.75" fill="none"/><path d="M522.76 319.35L533.96 319.35M528.36 313.75L528.36 324.95" stroke="#ea5b53" stroke-width="1.75" fill="none"/><path d="M530.65 319.35L541.85 319.35M536.25 313.75L536.25 324.95" stroke="#ea5b53" stroke-width="1.75" fill="none"/><path d="M538.54 319.35L549.74 319.35M544.14 313.75L544.14 324.95" stroke="#ea5b53" stroke-width="1.75" fill="none"/><path d="M546.43 319.35L557.63 319.35M552.03 313.75L552.03 324.95" stroke="#ea5b53" stroke-width="1.75" fill="none"/><path d="M554.32 319.35L565.52 319.35M559.92 313.75L559.92 324.95" stroke="#ea5b53" stroke-width="1.75" fill="none"/><path d="M562.21 319.35L573.41 319.35M567.81 313.75L567.81 324.95" stroke="#ea5b53" stroke-width="1.75" fill="none"/><path d="M570.10 319.35L581.30 319.35M575.70 313.75L575.70 324.95" stroke="#ea5b53" stroke-width="1.75" fill="none"/>
<path clip-path="url(#pa)" d="M78.58 319.35C79.89 319.35 83.84 319.35 86.47 319.35C89.10 319.35 91.73 319.35 94.36 319.35C96.99 319.35 99.62 319.35 102.25 319.35C104.88 319.35 107.51 319.35 110.14 319.35C112.77 319.35 115.40 319.35 118.03 319.35C120.66 319.35 123.29 319.35 125.92 319.35C128.55 319.35 131.19 319.35 133.82 319.35C136.45 319.35 139.08 319.35 141.71 319.35C144.34 319.35 146.97 319.35 149.60 319.35C152.23 319.35 154.86 319.35 157.49 319.35C160.12 319.35 162.75 319.35 165.38 319.35C168.01 319.35 170.64 319.35 173.27 319.35C175.90 319.35 178.53 319.35 181.16 319.35C183.79 319.35 186.42 319.35 189.05 319.35C191.68 319.35 194.31 319.35 196.94 319.35C199.57 319.35 202.20 319.35 204.83 319.35C207.46 319.35 210.09 319.35 212.72 319.35C215.35 319.35 217.98 319.35 220.61 319.35C223.24 319.35 225.87 319.35 228.50 319.35C231.14 319.35 233.77 319.35 236.40 319.35C239.03 319.35 241.66 319.35 244.29 319.35C246.92 319.35 249.55 319.35 252.18 319.35C254.81 319.35 257.44 319.35 260.07 319.35C262.70 319.35 265.33 319.35 267.96 319.35C270.59 319.35 273.22 319.35 275.85 319.35C278.48 319.35 281.11 320.30 283.74 319.35C286.37 318.40 289.00 316.98 291.63 313.63C294.26 310.28 296.89 305.77 299.52 299.23C302.15 292.69 304.78 284.47 307.41 274.38C310.04 264.28 312.67 252.15 315.30 238.67C317.93 225.20 320.56 208.33 323.19 193.50C325.82 178.68 328.46 163.16 331.09 149.72C333.72 136.27 336.35 123.35 338.98 112.83C341.61 102.31 344.24 91.89 346.87 86.59C349.50 81.30 352.13 80.41 354.76 81.07C357.39 81.73 360.02 84.33 362.65 90.54C365.28 96.75 367.91 107.17 370.54 118.35C373.17 129.53 375.80 143.50 378.43 157.60C381.06 171.71 383.69 188.47 386.32 202.97C388.95 217.47 391.58 231.71 394.21 244.59C396.84 257.48 399.47 270.60 402.10 280.29C404.73 289.99 407.36 297.26 409.99 302.78C412.62 308.30 415.25 310.67 417.88 313.43C420.51 316.19 423.14 318.36 425.77 319.35C428.41 320.34 431.04 319.35 433.67 319.35C436.30 319.35 438.93 319.35 441.56 319.35C444.19 319.35 446.82 319.35 449.45 319.35C452.08 319.35 454.71 319.35 457.34 319.35C459.97 319.35 462.60 319.35 465.23 319.35C467.86 319.35 470.49 319.35 473.12 319.35C475.75 319.35 478.38 319.35 481.01 319.35C483.64 319.35 486.27 319.35 488.90 319.35C491.53 319.35 494.16 319.35 496.79 319.35C499.42 319.35 502.05 319.35 504.68 319.35C507.31 319.35 509.94 319.35 512.57 319.35C515.20 319.35 517.83 319.35 520.46 319.35C523.09 319.35 525.72 319.35 528.36 319.35C530.99 319.35 533.62 319.35 536.25 319.35C538.88 319.35 541.51 319.35 544.14 319.35C546.77 319.35 549.40 319.35 552.03 319.35C554.66 319.35 557.29 319.35 559.92 319.35C562.55 319.35 565.18 319.35 567.81 319.35C570.44 319.35 574.38 319.35 575.70 319.35" fill="none" stroke="#bad29e" stroke-width="3.15" stroke-linejoin="round" stroke-linecap="round"/>
<rect x="80.67" y="317.70" width="11.60" height="3.30" fill="#bad29e"/><rect x="88.56" y="317.70" width="11.60" height="3.30" fill="#bad29e"/><rect x="96.45" y="317.70" width="11.60" height="3.30" fill="#bad29e"/><rect x="104.34" y="317.70" width="11.60" height="3.30" fill="#bad29e"/><rect x="112.23" y="317.70" width="11.60" height="3.30" fill="#bad29e"/><rect x="120.12" y="317.70" width="11.60" height="3.30" fill="#bad29e"/><rect x="128.02" y="317.70" width="11.60" height="3.30" fill="#bad29e"/><rect x="135.91" y="317.70" width="11.60" height="3.30" fill="#bad29e"/><rect x="143.80" y="317.70" width="11.60" height="3.30" fill="#bad29e"/><rect x="151.69" y="317.70" width="11.60" height="3.30" fill="#bad29e"/><rect x="159.58" y="317.70" width="11.60" height="3.30" fill="#bad29e"/><rect x="167.47" y="317.70" width="11.60" height="3.30" fill="#bad29e"/><rect x="175.36" y="317.70" width="11.60" height="3.30" fill="#bad29e"/><rect x="183.25" y="317.70" width="11.60" height="3.30" fill="#bad29e"/><rect x="191.14" y="317.70" width="11.60" height="3.30" fill="#bad29e"/><rect x="199.03" y="317.70" width="11.60" height="3.30" fill="#bad29e"/><rect x="206.92" y="317.70" width="11.60" height="3.30" fill="#bad29e"/><rect x="214.81" y="317.70" width="11.60" height="3.30" fill="#bad29e"/><rect x="222.70" y="317.70" width="11.60" height="3.30" fill="#bad29e"/><rect x="230.60" y="317.70" width="11.60" height="3.30" fill="#bad29e"/><rect x="238.49" y="317.70" width="11.60" height="3.30" fill="#bad29e"/><rect x="246.38" y="317.70" width="11.60" height="3.30" fill="#bad29e"/><rect x="254.27" y="317.70" width="11.60" height="3.30" fill="#bad29e"/><rect x="262.16" y="317.70" width="11.60" height="3.30" fill="#bad29e"/><rect x="270.05" y="317.70" width="11.60" height="3.30" fill="#bad29e"/><rect x="277.94" y="317.70" width="11.60" height="3.30" fill="#bad29e"/><rect x="285.83" y="311.98" width="11.60" height="3.30" fill="#bad29e"/><rect x="293.72" y="297.58" width="11.60" height="3.30" fill="#bad29e"/><rect x="301.61" y="272.73" width="11.60" height="3.30" fill="#bad29e"/><rect x="309.50" y="237.02" width="11.60" height="3.30" fill="#bad29e"/><rect x="317.39" y="191.85" width="11.60" height="3.30" fill="#bad29e"/><rect x="325.29" y="148.06" width="11.60" height="3.30" fill="#bad29e"/><rect x="333.18" y="111.18" width="11.60" height="3.30" fill="#bad29e"/><rect x="341.07" y="84.94" width="11.60" height="3.30" fill="#bad29e"/><rect x="348.96" y="79.42" width="11.60" height="3.30" fill="#bad29e"/><rect x="356.85" y="88.89" width="11.60" height="3.30" fill="#bad29e"/><rect x="364.74" y="116.70" width="11.60" height="3.30" fill="#bad29e"/><rect x="372.63" y="155.95" width="11.60" height="3.30" fill="#bad29e"/><rect x="380.52" y="201.32" width="11.60" height="3.30" fill="#bad29e"/><rect x="388.41" y="242.94" width="11.60" height="3.30" fill="#bad29e"/><rect x="396.30" y="278.64" width="11.60" height="3.30" fill="#bad29e"/><rect x="404.19" y="301.13" width="11.60" height="3.30" fill="#bad29e"/><rect x="412.08" y="311.78" width="11.60" height="3.30" fill="#bad29e"/><rect x="419.97" y="317.70" width="11.60" height="3.30" fill="#bad29e"/><rect x="427.87" y="317.70" width="11.60" height="3.30" fill="#bad29e"/><rect x="435.76" y="317.70" width="11.60" height="3.30" fill="#bad29e"/><rect x="443.65" y="317.70" width="11.60" height="3.30" fill="#bad29e"/><rect x="451.54" y="317.70" width="11.60" height="3.30" fill="#bad29e"/><rect x="459.43" y="317.70" width="11.60" height="3.30" fill="#bad29e"/><rect x="467.32" y="317.70" width="11.60" height="3.30" fill="#bad29e"/><rect x="475.21" y="317.70" width="11.60" height="3.30" fill="#bad29e"/><rect x="483.10" y="317.70" width="11.60" height="3.30" fill="#bad29e"/><rect x="490.99" y="317.70" width="11.60" height="3.30" fill="#bad29e"/><rect x="498.88" y="317.70" width="11.60" height="3.30" fill="#bad29e"/><rect x="506.77" y="317.70" width="11.60" height="3.30" fill="#bad29e"/><rect x="514.66" y="317.70" width="11.60" height="3.30" fill="#bad29e"/><rect x="522.56" y="317.70" width="11.60" height="3.30" fill="#bad29e"/><rect x="530.45" y="317.70" width="11.60" height="3.30" fill="#bad29e"/><rect x="538.34" y="317.70" width="11.60" height="3.30" fill="#bad29e"/><rect x="546.23" y="317.70" width="11.60" height="3.30" fill="#bad29e"/><rect x="554.12" y="317.70" width="11.60" height="3.30" fill="#bad29e"/><rect x="562.01" y="317.70" width="11.60" height="3.30" fill="#bad29e"/><rect x="569.90" y="317.70" width="11.60" height="3.30" fill="#bad29e"/>
<line x1="89.7" y1="402.0" x2="117.3" y2="402.0" stroke="#0c83ba" stroke-width="3.6" stroke-linecap="round"/>
<path d="M104.00 395.80L109.80 402.00L104.00 408.20L98.20 402.00Z" fill="#0c83ba"/>
<text x="122.2" y="407.4" font-size="15" letter-spacing="0.45">pH 7.75</text>
<line x1="195.7" y1="402.0" x2="224.3" y2="402.0" stroke="#8ab254" stroke-width="3.6" stroke-linecap="round"/>
<path d="M210.00 396.20L215.75 407.80L204.25 407.80Z" fill="#8ab254"/>
<text x="228.6" y="407.4" font-size="15" letter-spacing="0.45">pH 5</text>
<line x1="279.7" y1="402.0" x2="308.0" y2="402.0" stroke="#04a8bf" stroke-width="3.6" stroke-linecap="round"/>
<path d="M288.35 396.50L299.35 407.50M299.35 396.50L288.35 407.50M293.85 396.50L293.85 407.50" stroke="#04a8bf" stroke-width="1.55" fill="none"/>
<text x="312.0" y="407.4" font-size="15" letter-spacing="0.45">pH 4.6</text>
<line x1="376.8" y1="402.0" x2="405.5" y2="402.0" stroke="#ea5b53" stroke-width="3.6" stroke-linecap="round"/>
<path d="M385.55 402.00L396.75 402.00M391.15 396.40L391.15 407.60" stroke="#ea5b53" stroke-width="1.75" fill="none"/>
<text x="409.4" y="407.4" font-size="15" letter-spacing="0.45">pH 4.3</text>
<line x1="473.8" y1="402.0" x2="503.2" y2="402.0" stroke="#bad29e" stroke-width="3.6" stroke-linecap="round"/>
<text x="506.6" y="407.4" font-size="15" letter-spacing="0.45">pH 4</text>
<path d="M98.0 516.3H569.0V754.6" fill="none" stroke="#262626" stroke-width="1.4"/>
<rect x="126.20" y="630.88" width="37.80" height="123.72" fill="#bfbfbf" stroke="#262626" stroke-width="1.5"/>
<path d="M145.10 630.88V625.52M141.60 625.52H148.60" stroke="#262626" stroke-width="1.6" fill="none"/>
<text x="145.10" y="619.68" font-size="15" text-anchor="middle">d</text>
<text x="145.10" y="780.4" font-size="14.5" font-weight="bold" text-anchor="middle">pH 7.75</text>
<rect x="220.40" y="599.90" width="37.80" height="154.70" fill="#bfbfbf" stroke="#262626" stroke-width="1.5"/>
<text x="239.30" y="588.70" font-size="15" text-anchor="middle">c</text>
<text x="239.30" y="780.4" font-size="14.5" font-weight="bold" text-anchor="middle">pH 5</text>
<rect x="314.60" y="578.46" width="37.80" height="176.14" fill="#bfbfbf" stroke="#262626" stroke-width="1.5"/>
<path d="M333.50 578.46V573.49M330.00 573.49H337.00" stroke="#262626" stroke-width="1.6" fill="none"/>
<text x="333.50" y="567.26" font-size="15" text-anchor="middle">b</text>
<text x="333.50" y="780.4" font-size="14.5" font-weight="bold" text-anchor="middle">pH 4.6</text>
<rect x="408.80" y="559.19" width="37.80" height="195.41" fill="#bfbfbf" stroke="#262626" stroke-width="1.5"/>
<path d="M427.70 559.19V555.22M424.20 555.22H431.20" stroke="#262626" stroke-width="1.6" fill="none"/>
<text x="427.70" y="547.99" font-size="15" text-anchor="middle">a</text>
<text x="427.70" y="780.4" font-size="14.5" font-weight="bold" text-anchor="middle">pH 4.3</text>
<rect x="503.00" y="562.57" width="37.80" height="192.03" fill="#bfbfbf" stroke="#262626" stroke-width="1.5"/>
<path d="M521.90 562.57V559.00M518.40 559.00H525.40" stroke="#262626" stroke-width="1.6" fill="none"/>
<text x="521.90" y="551.37" font-size="15" text-anchor="middle">a</text>
<text x="521.90" y="780.4" font-size="14.5" font-weight="bold" text-anchor="middle">pH 4</text>
<line x1="98.0" y1="516.3" x2="98.0" y2="755.3" stroke="#262626" stroke-width="1.4"/>
<line x1="97.3" y1="754.6" x2="569.7" y2="754.6" stroke="#262626" stroke-width="1.4"/>
<line x1="92.5" y1="754.60" x2="98.0" y2="754.60" stroke="#262626" stroke-width="1.4"/>
<text x="82.6" y="759.60" font-size="15" text-anchor="end">50</text>
<line x1="92.5" y1="714.88" x2="98.0" y2="714.88" stroke="#262626" stroke-width="1.4"/>
<text x="82.6" y="719.88" font-size="15" text-anchor="end">70</text>
<line x1="92.5" y1="675.17" x2="98.0" y2="675.17" stroke="#262626" stroke-width="1.4"/>
<text x="82.6" y="680.17" font-size="15" text-anchor="end">90</text>
<line x1="92.5" y1="635.45" x2="98.0" y2="635.45" stroke="#262626" stroke-width="1.4"/>
<text x="82.6" y="640.45" font-size="15" text-anchor="end">110</text>
<line x1="92.5" y1="595.73" x2="98.0" y2="595.73" stroke="#262626" stroke-width="1.4"/>
<text x="82.6" y="600.73" font-size="15" text-anchor="end">130</text>
<line x1="92.5" y1="556.02" x2="98.0" y2="556.02" stroke="#262626" stroke-width="1.4"/>
<text x="82.6" y="561.02" font-size="15" text-anchor="end">150</text>
<line x1="92.5" y1="516.30" x2="98.0" y2="516.30" stroke="#262626" stroke-width="1.4"/>
<text x="82.6" y="521.30" font-size="15" text-anchor="end">170</text>
<line x1="98.00" y1="754.6" x2="98.00" y2="759.8" stroke="#262626" stroke-width="1.4"/>
<line x1="192.20" y1="754.6" x2="192.20" y2="759.8" stroke="#262626" stroke-width="1.4"/>
<line x1="286.40" y1="754.6" x2="286.40" y2="759.8" stroke="#262626" stroke-width="1.4"/>
<line x1="380.60" y1="754.6" x2="380.60" y2="759.8" stroke="#262626" stroke-width="1.4"/>
<line x1="474.80" y1="754.6" x2="474.80" y2="759.8" stroke="#262626" stroke-width="1.4"/>
<line x1="569.00" y1="754.6" x2="569.00" y2="759.8" stroke="#262626" stroke-width="1.4"/>
<text transform="translate(45.5,634.5) rotate(-90)" x="0" y="0" font-size="14" font-weight="bold" text-anchor="middle">Average size d (nm)</text>
</svg></body></html>
